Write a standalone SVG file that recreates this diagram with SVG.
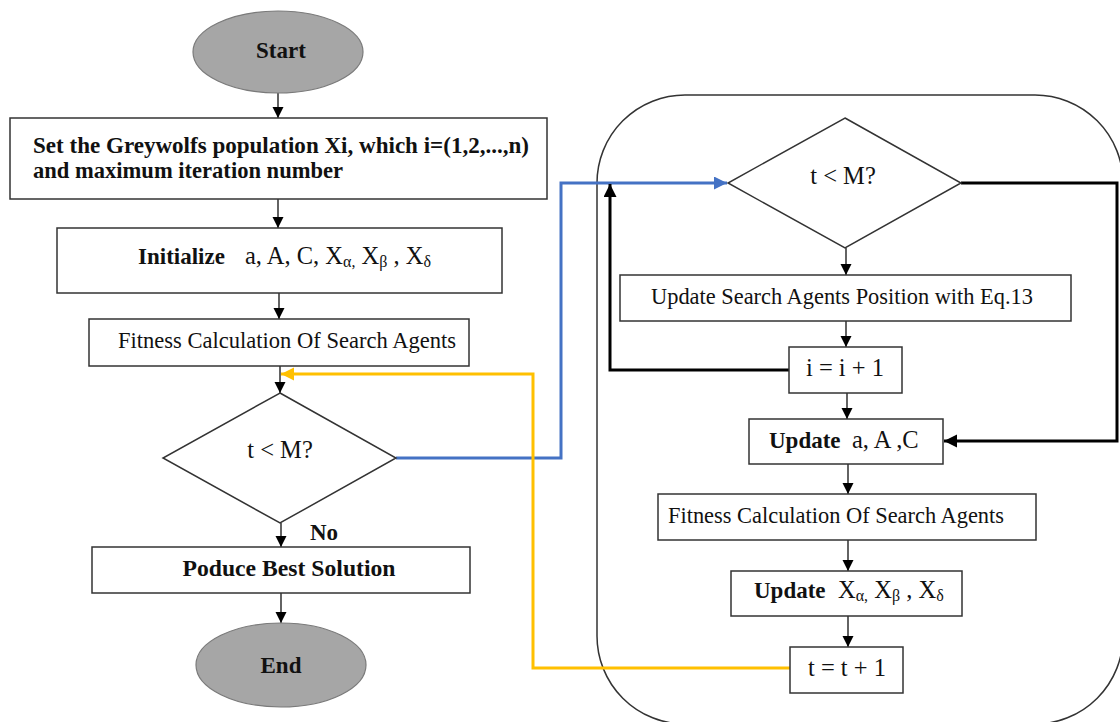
<svg xmlns="http://www.w3.org/2000/svg" width="1120" height="722" viewBox="0 0 1120 722">
<style>
.box{fill:#fff;stroke:#333;stroke-width:1.5}
.term{fill:#a6a6a6;stroke:#7a7a7a;stroke-width:1.2}
.t{font-family:"Liberation Serif","Times New Roman",serif;font-size:23px;fill:#111}
.m{font-size:24.5px}
.b{font-weight:bold}
.c{text-anchor:middle}
.thin{fill:none;stroke:#222;stroke-width:1.4}
.thick{fill:none;stroke:#000;stroke-width:3}
.blue{fill:none;stroke:#4472c4;stroke-width:3}
.yel{fill:none;stroke:#ffc000;stroke-width:3}
.sub{font-size:16px}
</style>
<defs>
<marker id="a" markerUnits="userSpaceOnUse" markerWidth="12" markerHeight="12" refX="11" refY="5.5" orient="auto"><path d="M0,0 L11,5.5 L0,11 z" fill="#000"/></marker>
<marker id="ak" markerUnits="userSpaceOnUse" markerWidth="14" markerHeight="14" refX="13" refY="6.5" orient="auto"><path d="M0,0 L13,6.5 L0,13 z" fill="#000"/></marker>
<marker id="ab" markerUnits="userSpaceOnUse" markerWidth="14" markerHeight="14" refX="13" refY="6.5" orient="auto"><path d="M0,0 L13,6.5 L0,13 z" fill="#4472c4"/></marker>
<marker id="ay" markerUnits="userSpaceOnUse" markerWidth="14" markerHeight="14" refX="13" refY="6.5" orient="auto"><path d="M0,0 L13,6.5 L0,13 z" fill="#ffc000"/></marker>
</defs>

<rect id="loop-frame" x="597" y="95" width="526" height="629" rx="88" ry="88" fill="none" stroke="#333" stroke-width="1.5"/>

<g id="connectors">
<line class="thin" x1="278" y1="93" x2="278" y2="118" marker-end="url(#a)"/>
<line class="thin" x1="278" y1="199" x2="278" y2="228" marker-end="url(#a)"/>
<line class="thin" x1="279" y1="293" x2="279" y2="319" marker-end="url(#a)"/>
<line class="thin" x1="280" y1="366" x2="280" y2="393" marker-end="url(#a)"/>
<line class="thin" x1="281" y1="523" x2="281" y2="547" marker-end="url(#a)"/>
<line class="thin" x1="281" y1="593" x2="281" y2="623" marker-end="url(#a)"/>
<polyline class="blue" points="396,458 561,458 561,183 727,183" marker-end="url(#ab)"/>
<polyline class="yel" points="790,668 533,668 533,374 281,374" marker-end="url(#ay)"/>
<line class="thin" x1="846" y1="248" x2="846" y2="275" marker-end="url(#a)"/>
<line class="thin" x1="846" y1="321" x2="846" y2="347" marker-end="url(#a)"/>
<line class="thin" x1="847" y1="393" x2="847" y2="419" marker-end="url(#a)"/>
<line class="thin" x1="848" y1="464" x2="848" y2="494" marker-end="url(#a)"/>
<line class="thin" x1="848" y1="540" x2="848" y2="571" marker-end="url(#a)"/>
<line class="thin" x1="848" y1="616" x2="848" y2="647" marker-end="url(#a)"/>
<polyline class="thick" points="789,370 610,370 610,184" marker-end="url(#ak)"/>
<polyline class="thick" points="961,183 1117,183 1117,441 944,441" marker-end="url(#ak)"/>
</g>

<g id="start">
<ellipse class="term" cx="278" cy="52" rx="85" ry="41"/>
<text class="t b c" x="281" y="58" font-size="24">Start</text>
</g>

<g id="set-population">
<rect class="box" x="10" y="118" width="537" height="81"/>
<text class="t b" x="33" y="153" font-size="22.5" textLength="496" lengthAdjust="spacingAndGlyphs">Set the Greywolfs population Xi, which i=(1,2,...,n)</text>
<text class="t b" x="33" y="178" font-size="22.5" textLength="310" lengthAdjust="spacingAndGlyphs">and maximum iteration number</text>
</g>

<g id="initialize">
<rect class="box" x="57" y="228" width="445" height="65"/>
<text class="t" x="138" y="264"><tspan class="b">Initialize</tspan><tspan class="m" x="245">a, A, C, X</tspan><tspan class="sub" dy="3">α,</tspan><tspan class="m" dy="-3"> X</tspan><tspan class="sub" dy="3">β</tspan><tspan class="m" dy="-3"> , X</tspan><tspan class="sub" dy="3">δ</tspan></text>
</g>

<g id="fitness-1">
<rect class="box" x="89" y="319" width="380" height="47"/>
<text class="t" x="118" y="348" textLength="338" lengthAdjust="spacingAndGlyphs">Fitness Calculation Of Search Agents</text>
</g>

<g id="decision-1">
<polygon class="box" points="280,393 396,458 280,523 163,458"/>
<text class="t m c" x="280" y="458">t &lt; M?</text>
<text class="t b" x="310" y="540" font-size="24">No</text>
</g>

<g id="best-solution">
<rect class="box" x="92" y="547" width="378" height="46"/>
<text class="t b c" x="289" y="576" textLength="213" lengthAdjust="spacingAndGlyphs">Poduce Best Solution</text>
</g>

<g id="end">
<ellipse class="term" cx="281" cy="665" rx="85" ry="42"/>
<text class="t b c" x="281" y="673">End</text>
</g>

<g id="decision-2">
<polygon class="box" points="845,118 961,183 845,248 728,183"/>
<text class="t m c" x="843" y="184">t &lt; M?</text>
</g>

<g id="update-position">
<rect class="box" x="620" y="275" width="451" height="46"/>
<text class="t" x="651" y="304" textLength="382" lengthAdjust="spacingAndGlyphs">Update Search Agents Position with Eq.13</text>
</g>

<g id="i-increment">
<rect class="box" x="789" y="347" width="113" height="46"/>
<text class="t m c" x="845" y="376">i = i + 1</text>
</g>

<g id="update-aAC">
<rect class="box" x="749" y="419" width="194" height="45"/>
<text class="t" x="769" y="448"><tspan class="b">Update</tspan><tspan class="m" x="852">a, A ,C</tspan></text>
</g>

<g id="fitness-2">
<rect class="box" x="658" y="494" width="378" height="46"/>
<text class="t" x="668" y="523" textLength="336" lengthAdjust="spacingAndGlyphs">Fitness Calculation Of Search Agents</text>
</g>

<g id="update-X">
<rect class="box" x="731" y="571" width="231" height="45"/>
<text class="t" x="754" y="598"><tspan class="b">Update</tspan><tspan class="m" x="838">X</tspan><tspan class="sub" dy="3">α,</tspan><tspan class="m" dy="-3"> X</tspan><tspan class="sub" dy="3">β</tspan><tspan class="m" dy="-3"> , X</tspan><tspan class="sub" dy="3">δ</tspan></text>
</g>

<g id="t-increment">
<rect class="box" x="790" y="647" width="113" height="46"/>
<text class="t m c" x="847" y="676">t = t + 1</text>
</g>
</svg>
